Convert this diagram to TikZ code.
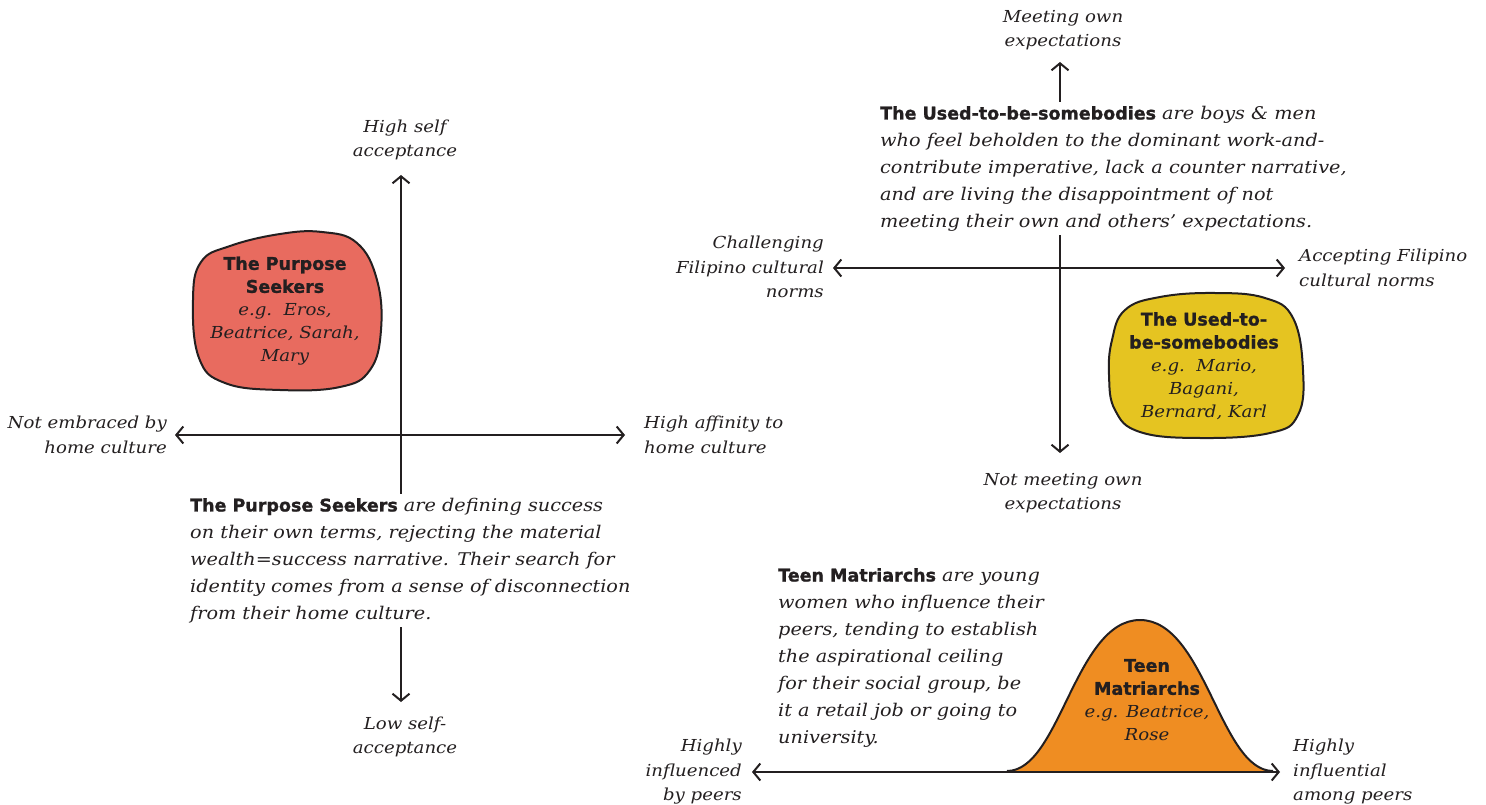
\documentclass[tikz,border=0pt]{standalone}
\usepackage{fontspec}
\setmainfont{DejaVu Serif}[FakeStretch=1.1]
\newfontfamily\hfont{DejaVu Sans}[BoldFeatures={FakeBold=1.2}]
\usetikzlibrary{arrows.meta}
\definecolor{ink}{HTML}{231F20}
\definecolor{redblob}{HTML}{E86B5F}
\definecolor{yelblob}{HTML}{E5C421}
\definecolor{orablob}{HTML}{EF8D22}
\newcommand\hd[1]{{\upshape\hfont\bfseries #1}}
\newcommand\bhd[1]{{\upshape\hfont\bfseries\fontsize{17.5}{23}\selectfont #1}}
\tikzset{
  axisline/.style={draw=ink, line width=2pt, -{Straight Barb[length=7pt,width=17pt]}},
  biaxis/.style={draw=ink, line width=2pt, {Straight Barb[length=7pt,width=17pt]}-{Straight Barb[length=7pt,width=17pt]}},
  lbl/.style={font=\itshape\fontsize{16.5}{24.5}\selectfont, text=ink, inner sep=0pt},
  body/.style={font=\itshape\fontsize{17.5}{27}\selectfont, text=ink, align=left, inner sep=4pt, fill=white, anchor=north west},
  blobtxt/.style={font=\itshape\fontsize{16.5}{23}\selectfont, text=ink, align=center, inner sep=0pt},
  blob/.style={draw=ink, line width=2pt},
}
\begin{document}
\begin{tikzpicture}[x=1pt,y=-1pt]
\useasboundingbox (0,0) rectangle (1486,805);

% ---------- Quadrant 1: Purpose Seekers ----------
\coordinate (c1) at (401,435);
\coordinate (c1u) at (401,175);
\coordinate (c1d) at (401,702);
\coordinate (c1l) at (175,435);
\coordinate (c1r) at (625,435);
\draw[axisline] (c1) -- (c1u);
\draw[axisline] (c1) -- (c1d);
\draw[axisline] (c1) -- (c1l);
\draw[axisline] (c1) -- (c1r);

\node[lbl, align=center] (hiself) at (405,140) {High self\\acceptance};
\node[lbl, align=center] (loself) at (405,737) {Low self-\\acceptance};
\node[lbl, align=right, anchor=east] (notemb) at (167,435) {Not embraced by\\home culture};
\node[lbl, align=left, anchor=west] (hiaff) at (644,435) {High affinity to\\home culture};

\draw[blob, fill=redblob] plot[smooth cycle, tension=0.7] coordinates {
  (193,300) (201,262) (230,246) (280,234) (322,232) (357,243) (377,280)
  (381,330) (370,370) (340,387) (280,390) (225,383) (199,358)};
\node[blobtxt] (psblob) at (285,311) {\bhd{The Purpose}\\\bhd{Seekers}\\e.g.\ \ Eros,\\Beatrice, Sarah,\\Mary};

\node[body] (pstext) at (186,494) {\hd{The Purpose Seekers} are defining success\\
on their own terms, rejecting the material\\
wealth=success narrative. Their search for\\
identity comes from a sense of disconnection\\
from their home culture.};

% ---------- Quadrant 2: Used-to-be-somebodies ----------
\coordinate (c2) at (1060,268);
\coordinate (c2u) at (1060,62);
\coordinate (c2d) at (1060,453);
\coordinate (c2l) at (833,268);
\coordinate (c2r) at (1285,268);
\draw[axisline] (c2) -- (c2u);
\draw[axisline] (c2) -- (c2d);
\draw[axisline] (c2) -- (c2l);
\draw[axisline] (c2) -- (c2r);

\node[lbl, align=center] (meet) at (1063,30) {Meeting own\\expectations};
\node[lbl, align=center] (notmeet) at (1063,493) {Not meeting own\\expectations};
\node[lbl, align=right, anchor=east] (challenge) at (824,267) {Challenging\\Filipino cultural\\norms};
\node[lbl, align=left, anchor=west] (accept) at (1299,268) {Accepting Filipino\\cultural norms};

\draw[blob, fill=yelblob] plot[smooth cycle, tension=0.7] coordinates {
  (1112,340) (1125,310) (1160,297) (1215,293) (1265,298) (1293,318) (1303,370)
  (1298,415) (1270,433) (1200,438) (1140,432) (1115,410) (1109,375)};
\node[blobtxt] (ubblob) at (1204,366) {\bhd{The Used-to-}\\\bhd{be-somebodies}\\e.g.\ \ Mario,\\Bagani,\\Bernard, Karl};

\node[body] (ubtext) at (876,102) {\hd{The Used-to-be-somebodies} are boys \& men\\
who feel beholden to the dominant work-and-\\
contribute imperative, lack a counter narrative,\\
and are living the disappointment of not\\
meeting their own and others' expectations.};

% ---------- Quadrant 3: Teen Matriarchs ----------
\draw[blob, fill=orablob] (1007,771) .. controls (1060,771) and (1075,620) .. (1140,620)
  .. controls (1205,620) and (1220,771) .. (1273,771);
\coordinate (c3l) at (752,772);
\coordinate (c3r) at (1280,772);
\draw[biaxis] (c3l) -- (c3r);

\node[lbl, align=right, anchor=east] (infl) at (742,772) {Highly\\influenced\\by peers};
\node[lbl, align=left, anchor=west] (influential) at (1293,772) {Highly\\influential\\among peers};

\node[blobtxt] (tmblob) at (1147,700) {\bhd{Teen}\\\bhd{Matriarchs}\\e.g. Beatrice,\\Rose};

\node[body, fill=none] (tmtext) at (774,564) {\hd{Teen Matriarchs} are young\\
women who influence their\\
peers, tending to establish\\
the aspirational ceiling\\
for their social group, be\\
it a retail job or going to\\
university.};
\end{tikzpicture}
\end{document}
